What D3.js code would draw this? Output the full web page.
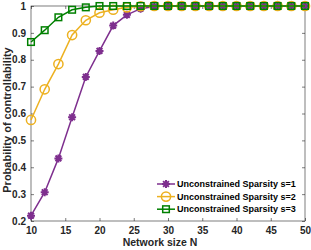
<!DOCTYPE html>
<html>
<head>
<meta charset="utf-8">
<script src="https://cdn.jsdelivr.net/npm/d3@7"></script>
<style>
  body { margin: 0; background: #fff; }
  svg text { font-family: "Liberation Sans", Arial, sans-serif; font-weight: bold; }
</style>
</head>
<body>
<svg id="chart" width="311" height="250"></svg>
<script>
// Network sizes
const networkSizes = [10, 12, 14, 16, 18, 20, 22, 24, 26, 28, 30, 32, 34, 36, 38, 40, 42, 44, 46, 48, 50];

// Probability of controllability per sparsity
const sparsity1 = [0.22, 0.307, 0.433, 0.586, 0.736, 0.833, 0.927, 0.967, 0.99, 0.998, 1, 1, 1, 1, 1, 1, 1, 1, 1, 1, 1];
const sparsity2 = [0.576, 0.69, 0.784, 0.892, 0.947, 0.975, 0.986, 0.995, 0.999, 1, 1, 1, 1, 1, 1, 1, 1, 1, 1, 1, 1];
const sparsity3 = [0.866, 0.91, 0.958, 0.986, 0.995, 1, 1, 1, 1, 1, 1, 1, 1, 1, 1, 1, 1, 1, 1, 1, 1];

const seriesNames = ["Unconstrained Sparsity s=1", "Unconstrained Sparsity s=2", "Unconstrained Sparsity s=3"];

const xTicks = [10, 15, 20, 25, 30, 35, 40, 45, 50];
const yTicks = [0.2, 0.3, 0.4, 0.5, 0.6, 0.7, 0.8, 0.9, 1];

const series = [
    { name: seriesNames[0], values: sparsity1, color: "#7E2F8E", marker: "star" },
    { name: seriesNames[1], values: sparsity2, color: "#EDB120", marker: "circle" },
    { name: seriesNames[2], values: sparsity3, color: "#008000", marker: "square" }
];

const svg = d3.select("#chart");
const margin = { top: 6, right: 6, bottom: 29, left: 31 };
const width = 311 - margin.left - margin.right;
const height = 250 - margin.top - margin.bottom;

const g = svg.append("g").attr("transform", "translate(" + margin.left + "," + margin.top + ")");

const x = d3.scaleLinear().domain([10, 50]).range([0, width]);
const y = d3.scaleLinear().domain([0.2, 1]).range([height, 0]);

// Axes, ticks inward like matlab
function styleAxis(sel) {
    sel.select(".domain").remove();
    sel.selectAll(".tick line").attr("stroke", "#262626").attr("stroke-width", 0.6);
    sel.selectAll(".tick text").attr("fill", "#262626").style("font-size", "10px");
}

g.append("g")
    .attr("transform", "translate(0," + height + ")")
    .call(d3.axisBottom(x).tickValues(xTicks).tickSizeInner(-3).tickSizeOuter(0).tickPadding(6))
    .call(styleAxis);
g.append("g")
    .call(d3.axisTop(x).tickValues(xTicks).tickSizeInner(-3).tickSizeOuter(0).tickFormat(""))
    .call(styleAxis);
g.append("g")
    .call(d3.axisLeft(y).tickValues(yTicks).tickSizeInner(-3).tickSizeOuter(0).tickPadding(5).tickFormat(d3.format("~g")))
    .call(styleAxis);
g.append("g")
    .attr("transform", "translate(" + width + ",0)")
    .call(d3.axisRight(y).tickValues(yTicks).tickSizeInner(-3).tickSizeOuter(0).tickFormat(""))
    .call(styleAxis);

// Box
g.append("rect")
    .attr("width", width).attr("height", height)
    .attr("fill", "none").attr("stroke", "#262626").attr("stroke-width", 0.6);

function drawMarker(sel, type, color) {
    if (type === "circle") {
        sel.append("circle").attr("r", 4.6).attr("fill", "none").attr("stroke", color).attr("stroke-width", 1.5);
    } else if (type === "square") {
        sel.append("rect").attr("x", -3.3).attr("y", -3.3).attr("width", 6.6).attr("height", 6.6)
            .attr("fill", "none").attr("stroke", color).attr("stroke-width", 1.5);
    } else {
        const r = 4;
        const d = r * 0.72;
        sel.append("path")
            .attr("d", "M" + (-r) + ",0L" + r + ",0M0," + (-r) + "L0," + r +
                "M" + (-d) + "," + (-d) + "L" + d + "," + d + "M" + (-d) + "," + d + "L" + d + "," + (-d))
            .attr("stroke", color).attr("stroke-width", 2).attr("fill", "none");
    }
}

const line = d3.line()
    .x(function (d, i) { return x(networkSizes[i]); })
    .y(function (d) { return y(d); });

const plot = g.append("g");
series.forEach(function (s) {
    plot.append("path")
        .datum(s.values)
        .attr("d", line)
        .attr("fill", "none")
        .attr("stroke", s.color)
        .attr("stroke-width", 1.5);
    s.values.forEach(function (v, i) {
        const m = plot.append("g").attr("transform", "translate(" + x(networkSizes[i]) + "," + y(v) + ")");
        drawMarker(m, s.marker, s.color);
    });
});

// Legend
const legend = g.append("g").attr("transform", "translate(126,178)");
series.forEach(function (s, i) {
    const row = legend.append("g").attr("transform", "translate(0," + (i * 12.6) + ")");
    row.append("line").attr("x1", 0).attr("x2", 18).attr("stroke", s.color).attr("stroke-width", 1.5);
    drawMarker(row.append("g").attr("transform", "translate(9,0)"), s.marker, s.color);
    row.append("text").attr("x", 20).attr("y", 3.2).style("font-size", "9px").attr("fill", "#000").text(s.name);
});

// Axis labels
svg.append("text")
    .attr("x", margin.left + width / 2 - 8).attr("y", 246)
    .attr("text-anchor", "middle").style("font-size", "10.5px").attr("fill", "#262626")
    .text("Network size N");
svg.append("text")
    .attr("transform", "translate(11,120) rotate(-90)")
    .attr("text-anchor", "middle").style("font-size", "11px").attr("fill", "#262626")
    .text("Probability of controllability");
</script>
</body>
</html>
